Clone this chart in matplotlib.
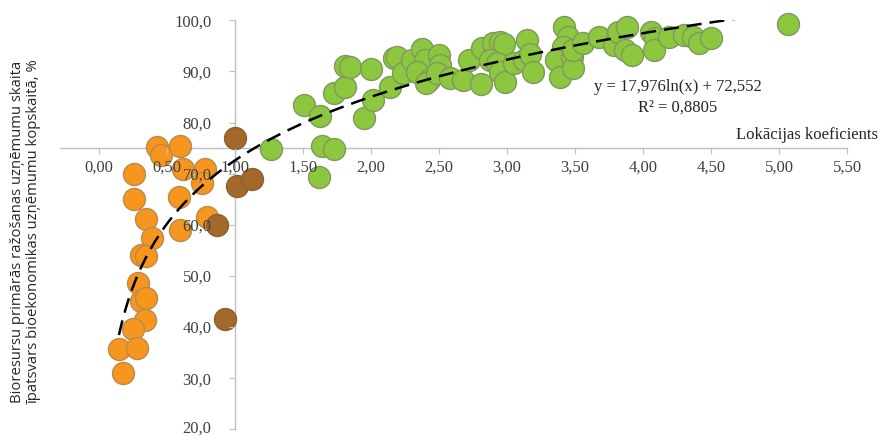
import numpy as np
import matplotlib
matplotlib.use("Agg")
import matplotlib.pyplot as plt
from matplotlib.ticker import FuncFormatter
from matplotlib.transforms import ScaledTranslation

# dati nolasīti no attēla
orange_x = [0.43, 0.46, 0.60, 0.62, 0.26, 0.26, 0.78, 0.76, 0.59, 0.35, 0.60, 0.80,
            0.39, 0.31, 0.35, 0.29, 0.31, 0.35, 0.34, 0.25, 0.15, 0.28, 0.18]
orange_y = [75.2, 73.7, 75.4, 70.9, 69.9, 65.0, 71.0, 68.2, 65.5, 61.1, 59.0, 61.6,
            57.4, 54.1, 53.8, 48.6, 45.0, 45.6, 41.4, 39.6, 35.8, 36.0, 31.1]

brown_x = [1.00, 1.02, 1.13, 0.87, 0.93]
brown_y = [76.9, 67.5, 68.9, 60.0, 41.6]

green_x = [1.27, 1.51, 1.63, 1.64, 1.73, 1.62, 1.73, 1.81, 1.81, 1.85, 2.00, 1.95,
           2.02, 2.14, 2.17, 2.19, 2.24, 2.30, 2.38, 2.40, 2.34, 2.43, 2.41, 2.50,
           2.51, 2.49, 2.58, 2.68, 2.72, 2.81, 2.82, 2.90, 2.95, 2.98, 2.88, 2.93,
           2.95, 2.99, 3.05, 3.13, 3.15, 3.17, 3.19,
           3.42, 3.45, 3.41, 3.36, 3.48, 3.39, 3.49, 3.49, 3.56, 3.68, 3.79, 3.82,
           3.88, 3.87, 3.92, 4.06, 4.09, 4.08, 4.19, 4.30, 4.37, 4.41, 4.50, 5.07]
green_y = [74.8, 83.4, 81.3, 75.4, 74.8, 69.4, 85.8, 87.0, 91.1, 90.8, 90.4, 80.8,
           84.5, 87.0, 92.6, 92.9, 89.6, 92.2, 94.4, 92.2, 89.9, 88.3, 87.7, 93.2,
           91.3, 89.6, 88.7, 88.3, 92.2, 87.6, 94.6, 95.5, 95.8, 95.3, 92.2, 91.6,
           89.9, 88.0, 91.6, 92.2, 96.1, 93.5, 89.9,
           98.7, 96.8, 94.8, 92.2, 92.9, 89.0, 90.6, 94.2, 95.5, 96.8, 95.2, 97.8,
           98.7, 94.2, 93.2, 97.8, 96.5, 94.2, 96.8, 97.1, 96.8, 95.5, 96.5, 99.3]

# trenda līnija (no attēlā dotā vienādojuma)
trend_a = 17.976
trend_b = 72.552
eq_text = "y = 17,976ln(x) + 72,552"
r2_text = "R² = 0,8805"
x_title = "Lokācijas koeficients"
y_title = "Bioresursu primārās ražošanas uzņēmumu skaita\nīpatsvars bioekonomikas uzņēmumu kopskaitā, %"

serif = ["Liberation Serif", "DejaVu Serif"]
axis_col = "#BFBFBF"
text_col = "#404040"

fig = plt.figure(figsize=(8.8, 4.36), dpi=100)
ax = fig.add_axes([60 / 880, (436 - 429.3) / 436, (847 - 60) / 880, (429.3 - 20.3) / 436])

ax.scatter(orange_x, orange_y, s=250, c="#F7961E", edgecolors="#B88A4E", linewidths=1,
           zorder=2, clip_on=False)
ax.scatter(brown_x, brown_y, s=250, c="#A2692B", edgecolors="#8C6030", linewidths=1,
           zorder=2, clip_on=False)
ax.scatter(green_x, green_y, s=250, c="#8DC63F", edgecolors="#7D9A5C", linewidths=1,
           zorder=2, clip_on=False)

all_x = orange_x + brown_x + green_x
tx = np.linspace(min(all_x), max(all_x), 300)
ty = trend_a * np.log(tx) + trend_b
ax.plot(tx, ty, color="black", lw=1.8, dashes=(6, 3.2), zorder=4)

ax.set_xlim(-0.283, 5.5)
ax.set_ylim(20, 100)

ax.spines["left"].set_position(("data", 1.0))
ax.spines["bottom"].set_position(("data", 75))
ax.spines["top"].set_visible(False)
ax.spines["right"].set_visible(False)
for s in ["left", "bottom"]:
    ax.spines[s].set_color(axis_col)
    ax.spines[s].set_linewidth(1)
    ax.spines[s].set_zorder(1)

ax.set_xticks(np.arange(0, 5.51, 0.5))
ax.set_yticks(np.arange(20, 101, 10))
ax.xaxis.set_major_formatter(FuncFormatter(lambda v, p: f"{v:.2f}".replace(".", ",")))
ax.yaxis.set_major_formatter(FuncFormatter(lambda v, p: f"{v:.1f}".replace(".", ",")))
ax.tick_params(axis="x", direction="out", length=4, color=axis_col, pad=4.5,
               labelsize=12, labelcolor=text_col)
ax.tick_params(axis="y", direction="out", length=4, color=axis_col, pad=12.6,
               labelsize=12, labelcolor=text_col)
for lab in ax.get_xticklabels() + ax.get_yticklabels():
    lab.set_family(serif)
# skaitļi virs punktiem, kā oriģinālā
ax.xaxis.set_zorder(5)
ax.yaxis.set_zorder(5)

# apakšējo skaitli mazliet uz augšu, lai netiek nogriezts
bottom_lab = ax.yaxis.get_major_ticks()[0].label1
bottom_lab.set_transform(bottom_lab.get_transform()
                         + ScaledTranslation(0, 3 / 100, fig.dpi_scale_trans))

fig.text(678 / 880, 1 - 87 / 436, eq_text, ha="center", va="center",
         fontsize=12, family=serif, color="#262626")
fig.text(678 / 880, 1 - 108 / 436, r2_text, ha="center", va="center",
         fontsize=12, family=serif, color="#262626")
fig.text(878 / 880, 1 - 135 / 436, x_title, ha="right", va="center",
         fontsize=12, family=serif, color="#262626")
fig.text(26 / 880, 1 - 232 / 436, y_title, ha="center", va="center", rotation=90,
         fontsize=10.7, family=["Open Sans", "DejaVu Sans"], color="#262626",
         linespacing=1.1)

fig.savefig("out.png", dpi=100)
